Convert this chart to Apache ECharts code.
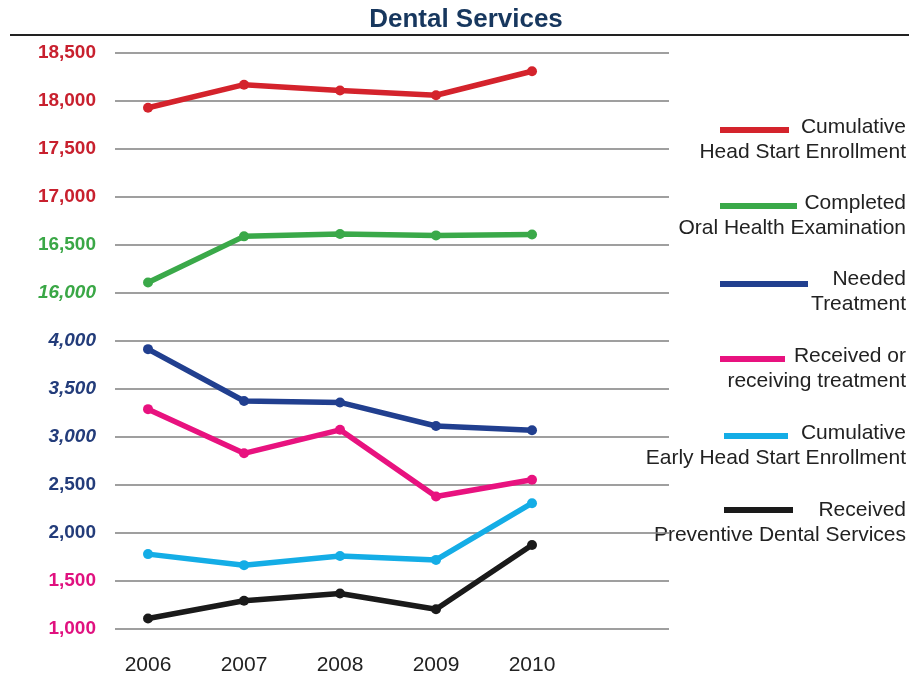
<!DOCTYPE html>
<html>
<head>
<meta charset="utf-8">
<script src="https://cdn.jsdelivr.net/npm/echarts@6/dist/echarts.min.js"></script>
<style>html,body{margin:0;padding:0;background:#fff}#c{width:909px;height:677px}</style>
</head>
<body>
<div id="c"></div>
<script>
var years = [2006, 2007, 2008, 2009, 2010];
var headStart = [17930, 18170, 18110, 18060, 18310];
var oralExam = [16110, 16590, 16615, 16600, 16610];
var neededTreatment = [3915, 3375, 3360, 3115, 3070];
var receivedTreatment = [3290, 2830, 3075, 2380, 2555];
var earlyHeadStart = [1780, 1665, 1760, 1720, 2310];
var preventive = [1110, 1295, 1370, 1205, 1875];
var seriesNames = [
  ['Cumulative', 'Head Start Enrollment'],
  ['Completed', 'Oral Health Examination'],
  ['Needed', 'Treatment'],
  ['Received or', 'receiving treatment'],
  ['Cumulative', 'Early Head Start Enrollment'],
  ['Received', 'Preventive Dental Services']
];
var colors = ['#d4232c', '#3aa949', '#213f8f', '#e8127f', '#14ade6', '#1a1a1a'];
var yTicks = [1000, 1500, 2000, 2500, 3000, 3500, 4000, 16000, 16500, 17000, 17500, 18000, 18500];

// broken axis: 4,000 -> 16,000 occupies one grid step
var GAP = 11500;
function toAxis(v) { return v >= 16000 ? v - GAP : v; }
function fromAxis(a) { return a > 4000 ? a + GAP : a; }

var allData = [headStart, oralExam, neededTreatment, receivedTreatment, earlyHeadStart, preventive];

var FONT = '"Liberation Sans", Arial, Helvetica, sans-serif';

function labelStyle(v) {
  if (v >= 17000) return 'red';
  if (v === 16500) return 'green';
  if (v === 16000) return 'greenI';
  if (v >= 3000) return 'navyI';
  if (v >= 2000) return 'navy';
  return 'pink';
}

var series = allData.map(function (arr, i) {
  return {
    type: 'line',
    name: seriesNames[i].join(' '),
    data: arr.map(function (v, j) { return [years[j], toAxis(v)]; }),
    symbol: 'circle',
    symbolSize: 10,
    lineStyle: { width: 5.5, color: colors[i] },
    itemStyle: { color: colors[i] },
    z: 3
  };
});

var graphics = [
  { type: 'text', x: 466, y: 20, style: { text: 'Dental Services', font: 'bold 26px ' + FONT, fill: '#17375e', textAlign: 'center', textVerticalAlign: 'middle' } },
  { type: 'line', shape: { x1: 10, y1: 35, x2: 909, y2: 35 }, style: { stroke: '#222', lineWidth: 2 } }
];
var legendY = [127, 203, 279, 356, 433, 510];
var swatchX = [[720, 789], [720, 797], [720, 808], [720, 785], [724, 788], [724, 793]];
var swatchY = [130, 206, 284, 359, 436, 510];
seriesNames.forEach(function (nm, i) {
  graphics.push({ type: 'rect', shape: { x: swatchX[i][0], y: swatchY[i] - 3, width: swatchX[i][1] - swatchX[i][0], height: 6 }, style: { fill: colors[i] } });
  graphics.push({ type: 'text', x: 906, y: legendY[i], style: { text: nm[0], font: '21px ' + FONT, fill: '#222', textAlign: 'right', textVerticalAlign: 'middle' } });
  graphics.push({ type: 'text', x: 906, y: legendY[i] + 25, style: { text: nm[1], font: '21px ' + FONT, fill: '#222', textAlign: 'right', textVerticalAlign: 'middle' } });
});

var chart = echarts.init(document.getElementById('c'), null, { renderer: 'canvas' });
chart.setOption({
  backgroundColor: '#fff',
  animation: false,
  grid: { left: 115, right: 240, top: 53, bottom: 48 },
  xAxis: {
    type: 'value',
    min: 2005.656,
    max: 2011.427,
    axisLine: { show: false },
    axisTick: { show: false },
    splitLine: { show: false },
    axisLabel: {
      customValues: years,
      margin: 26,
      fontSize: 21,
      fontFamily: FONT,
      color: '#222',
      formatter: function (v) { return String(Math.round(v)); }
    }
  },
  yAxis: {
    type: 'value',
    min: 1000,
    max: 7000,
    interval: 500,
    axisLine: { show: false },
    axisTick: { show: false },
    splitLine: { show: true, lineStyle: { color: '#7f7f7f', width: 1.5 } },
    axisLabel: {
      margin: 19,
      formatter: function (a) {
        var v = fromAxis(a);
        if (yTicks.indexOf(v) < 0) return '';
        return '{' + labelStyle(v) + '|' + v.toLocaleString('en-US') + '}';
      },
      rich: {
        red: { color: '#c8202e', fontWeight: 'bold', fontSize: 19, fontFamily: FONT },
        green: { color: '#3aa746', fontWeight: 'bold', fontSize: 19, fontFamily: FONT },
        greenI: { color: '#3aa746', fontWeight: 'bold', fontStyle: 'italic', fontSize: 19, fontFamily: FONT },
        navyI: { color: '#233c7a', fontWeight: 'bold', fontStyle: 'italic', fontSize: 19, fontFamily: FONT },
        navy: { color: '#233c7a', fontWeight: 'bold', fontSize: 19, fontFamily: FONT },
        pink: { color: '#e0117f', fontWeight: 'bold', fontSize: 19, fontFamily: FONT }
      }
    }
  },
  graphic: graphics,
  series: series
});
</script>
</body>
</html>
